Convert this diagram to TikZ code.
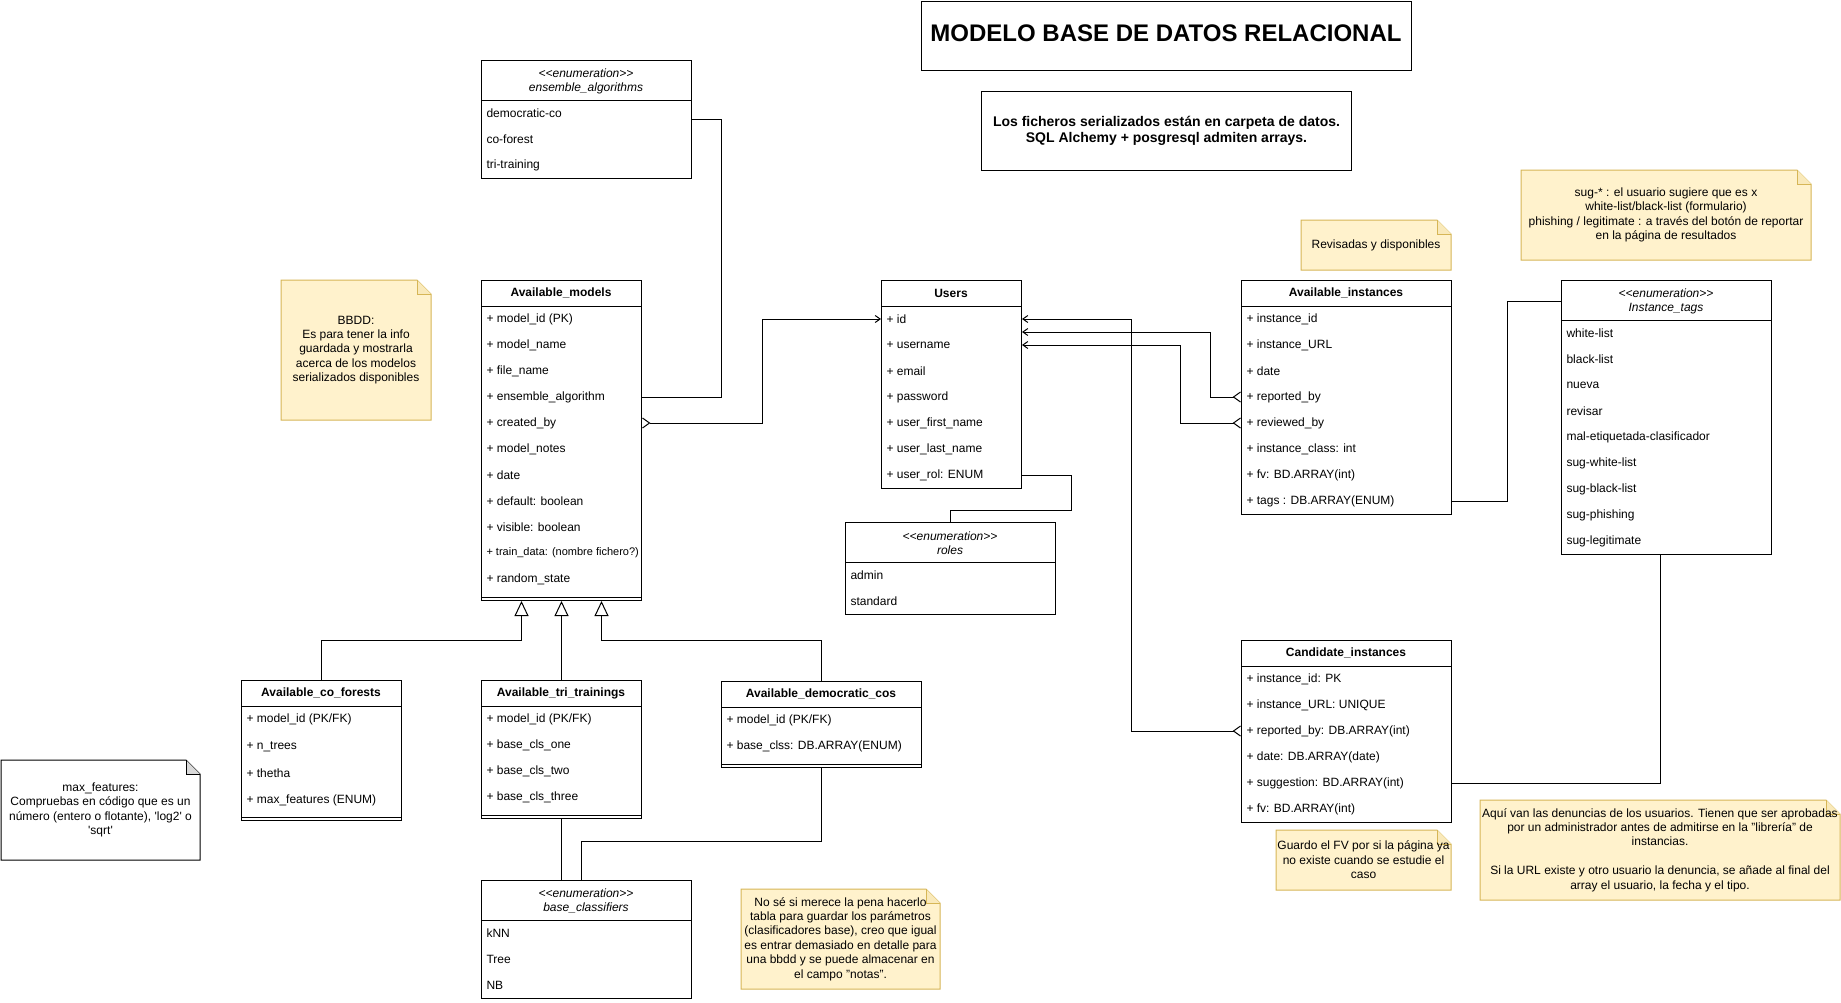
\documentclass[tikz,border=0pt]{standalone}
\usepackage{fontspec}
\setmainfont{Liberation Sans}
\usetikzlibrary{arrows.meta}
\usepackage{color}
\definecolor{note_fill}{RGB}{255,242,204}
\definecolor{note_line}{RGB}{214,182,86}

% note with folded corner: name, x1, y1, x2, y2, fill, line, text
\newcommand{\umlnote}[8]{%
  \filldraw[fill=#6, draw=#7, line width=1pt] (#2,#3) -- (#4-14,#3) -- (#4,#3+14) -- (#4,#5) -- (#2,#5) -- cycle;
  \filldraw[fill=#6!85!#7, draw=#7, line width=1pt] (#4-14,#3) -- (#4-14,#3+14) -- (#4,#3+14);
  \node[notetext] (#1) at ({(#2+#4)/2},{(#3+#5)/2}) {#8};
}
% stereotype without the << >> ligature
\newcommand{\enumtag}{\textless\kern0pt\textless enumeration\textgreater\kern0pt\textgreater}

\begin{document}
\begin{tikzpicture}[x=1pt, y=-1pt, >={Stealth}, line width=1pt,
    every node/.style={inner sep=0pt, font=\fontsize{12}{14.4}\selectfont},
    classbox/.style={draw, rectangle, anchor=north west, fill=white, line width=1pt},
    classhead/.style={font=\fontsize{12}{14.4}\selectfont\bfseries},
    enumhead/.style={align=center, font=\fontsize{12}{14}\selectfont\itshape},
    rowtext/.style={anchor=west},
    notetext/.style={align=center, font=\fontsize{12}{14.4}\selectfont},
    rel/.style={draw, line width=1pt},
    crowone/.style={rel, arrows={{Straight Barb[reversed, length=7pt, width=10pt]}-{Straight Barb[length=5pt, width=7pt]}}},
    inherit/.style={rel, arrows={-{Triangle[open, length=15pt, width=14pt]}}}]
  \useasboundingbox (0,0) rectangle (1841,1002);

  % titles
  \node[draw, minimum width=490, minimum height=69, anchor=north west] (titlebox) at (921,1) {};
  \node[font=\fontsize{24}{28}\selectfont\bfseries] (title) at (1166,33) {MODELO BASE DE DATOS RELACIONAL};
  \node[draw, minimum width=370, minimum height=79, anchor=north west, align=center,
        font=\fontsize{14}{16}\selectfont\bfseries] (subtitle) at (981,91)
        {Los ficheros serializados están en carpeta de datos.\\SQL Alchemy + posgresql admiten arrays.};

  % ensemble_algorithms
  \node[classbox, minimum width=210, minimum height=118] (ensalgo) at (481,60) {};
  \draw (ensalgo.north west) ++(0,40) -- ++(210,0);
  \node[enumhead] (ensalgo-title) at (586,81) {\enumtag\\ensemble\_algorithms};
  \foreach \t [count=\i] in {democratic-co, co-forest, tri-training}
    \node[rowtext] (ensalgo-\i) at (486,87+26*\i) {\t};

  % Available_models
  \node[classbox, minimum width=160, minimum height=320] (models) at (481,280) {};
  \draw (models.north west) ++(0,26) -- ++(160,0);
  \draw ([yshift=4pt]models.south west) -- ([yshift=4pt]models.south east);
  \node[classhead] (models-title) at (561,293) {Available\_models};
  \foreach \t [count=\i] in {+ model\_id (PK), + model\_name, + file\_name, + ensemble\_algorithm,
      + created\_by, + model\_notes, + date, + default: boolean, + visible: boolean,
      {\fontsize{11}{13}\selectfont + train\_data: (nombre fichero?)}, + random\_state}
    \node[rowtext] (models-\i) at (486,293+26*\i) {\t};

  % Users
  \node[classbox, minimum width=140, minimum height=208] (users) at (881,280) {};
  \draw (users.north west) ++(0,26) -- ++(140,0);
  \node[classhead] (users-title) at (951,293) {Users};
  \foreach \t [count=\i] in {+ id, + username, + email, + password, + user\_first\_name,
      + user\_last\_name, + user\_rol: ENUM}
    \node[rowtext] (users-\i) at (886,293+26*\i) {\t};

  % roles
  \node[classbox, minimum width=210, minimum height=92] (roles) at (845,522) {};
  \draw (roles.north west) ++(0,40) -- ++(210,0);
  \node[enumhead] (roles-title) at (950,543) {\enumtag\\roles};
  \foreach \t [count=\i] in {admin, standard}
    \node[rowtext] (roles-\i) at (850,549+26*\i) {\t};

  % Available_instances
  \node[classbox, minimum width=210, minimum height=234] (instances) at (1241,280) {};
  \draw (instances.north west) ++(0,26) -- ++(210,0);
  \node[classhead] (instances-title) at (1346,293) {Available\_instances};
  \foreach \t [count=\i] in {+ instance\_id, + instance\_URL, + date, + reported\_by, + reviewed\_by,
      + instance\_class: int, + fv: BD.ARRAY(int), + tags : DB.ARRAY(ENUM)}
    \node[rowtext] (instances-\i) at (1246,293+26*\i) {\t};

  % Instance_tags
  \node[classbox, minimum width=210, minimum height=274] (tags) at (1561,280) {};
  \draw (tags.north west) ++(0,40) -- ++(210,0);
  \node[enumhead] (tags-title) at (1666,301) {\enumtag\\Instance\_tags};
  \foreach \t [count=\i] in {white-list, black-list, nueva, revisar, mal-etiquetada-clasificador,
      sug-white-list, sug-black-list, sug-phishing, sug-legitimate}
    \node[rowtext] (tags-\i) at (1566,307+26*\i) {\t};

  % Candidate_instances
  \node[classbox, minimum width=210, minimum height=182] (candidates) at (1241,640) {};
  \draw (candidates.north west) ++(0,26) -- ++(210,0);
  \node[classhead] (candidates-title) at (1346,653) {Candidate\_instances};
  \foreach \t [count=\i] in {+ instance\_id: PK, + instance\_URL: UNIQUE, + reported\_by: DB.ARRAY(int),
      + date: DB.ARRAY(date), + suggestion: BD.ARRAY(int), + fv: BD.ARRAY(int)}
    \node[rowtext] (candidates-\i) at (1246,653+26*\i) {\t};

  % Available_co_forests
  \node[classbox, minimum width=160, minimum height=140] (coforests) at (241,680) {};
  \draw (coforests.north west) ++(0,26) -- ++(160,0);
  \draw ([yshift=4pt]coforests.south west) -- ([yshift=4pt]coforests.south east);
  \node[classhead] (coforests-title) at (321,693) {Available\_co\_forests};
  \foreach \t [count=\i] in {+ model\_id (PK/FK), + n\_trees, + thetha, + max\_features (ENUM)}
    \node[rowtext] (coforests-\i) at (246,693+26.8*\i) {\t};

  % Available_tri_trainings
  \node[classbox, minimum width=160, minimum height=138] (tritrainings) at (481,680) {};
  \draw (tritrainings.north west) ++(0,26) -- ++(160,0);
  \draw ([yshift=4pt]tritrainings.south west) -- ([yshift=4pt]tritrainings.south east);
  \node[classhead] (tritrainings-title) at (561,693) {Available\_tri\_trainings};
  \foreach \t [count=\i] in {+ model\_id (PK/FK), + base\_cls\_one, + base\_cls\_two, + base\_cls\_three}
    \node[rowtext] (tritrainings-\i) at (486,693+26*\i) {\t};

  % Available_democratic_cos
  \node[classbox, minimum width=200, minimum height=86] (democos) at (721,681) {};
  \draw (democos.north west) ++(0,26) -- ++(200,0);
  \draw ([yshift=4pt]democos.south west) -- ([yshift=4pt]democos.south east);
  \node[classhead] (democos-title) at (821,694) {Available\_democratic\_cos};
  \foreach \t [count=\i] in {+ model\_id (PK/FK), + base\_clss: DB.ARRAY(ENUM)}
    \node[rowtext] (democos-\i) at (726,694+26*\i) {\t};

  % base_classifiers
  \node[classbox, minimum width=210, minimum height=118] (basecls) at (481,880) {};
  \draw (basecls.north west) ++(0,40) -- ++(210,0);
  \node[enumhead] (basecls-title) at (586,901) {\enumtag\\base\_classifiers};
  \foreach \t [count=\i] in {kNN, Tree, NB}
    \node[rowtext] (basecls-\i) at (486,907+26*\i) {\t};

  % relations
  \draw[rel] (ensalgo.east) -- ++(29,0) |- (models.east |- models-4);
  \draw[crowone] (models.east |- models-5) -- ++(120,0) |- (users.west |- users-1);
  \draw[crowone] (instances.west |- instances-4) -- ++(-31,0) |- ([yshift=-13pt]users.east |- users-1);
  \draw[crowone] (instances.west |- instances-5) -- ++(-61,0) |- (users.east |- users-2);
  \draw[crowone] (candidates.west |- candidates-3) -- ++(-110,0) |- (users.east |- users-1);
  \draw[rel] (users.east |- users-7) -- ++(49,0) -- ++(0,35) -| (roles.north);
  \draw[rel] (instances.east |- instances-8) -- ++(55,0) |- (tags.west |- tags-title);
  \draw[rel] (candidates.east |- candidates-5) -| ([xshift=-6pt]tags.south);
  \draw[inherit] (coforests.north) -- ++(0,-40) -| ([xshift=-40pt]models.south);
  \draw[inherit] (tritrainings.north) -- (models.south);
  \draw[inherit] (democos.north) -- ++(0,-41) -| ([xshift=40pt]models.south);
  \draw[rel] (tritrainings.south) -- (tritrainings.south |- basecls.north);
  \draw[rel] (democos.south) -- ++(0,73) -| ([xshift=-5pt]basecls.north);

  % notes
  \umlnote{bbddnote}{281}{280}{431}{420}{note_fill}{note_line}
    {BBDD:\\Es para tener la info\\guardada y mostrarla\\acerca de los modelos\\serializados disponibles}
  \umlnote{revnote}{1301}{220}{1451}{270}{note_fill}{note_line}{Revisadas y disponibles}
  \umlnote{tagsnote}{1521}{170}{1811}{260}{note_fill}{note_line}
    {sug-* : el usuario sugiere que es x\\white-list/black-list (formulario)\\phishing / legitimate : a través del botón de reportar\\en la página de resultados}
  \umlnote{fvnote}{1276}{830}{1451}{890}{note_fill}{note_line}
    {Guardo el FV por si la página ya\\no existe cuando se estudie el\\caso}
  \umlnote{reportnote}{1480}{800}{1840}{900}{note_fill}{note_line}
    {Aquí van las denuncias de los usuarios. Tienen que ser aprobadas\\por un administrador antes de admitirse en la "librería" de\\instancias.\\[14.4pt]Si la URL existe y otro usuario la denuncia, se añade al final del\\array el usuario, la fecha y el tipo.}
  \umlnote{featnote}{1}{760}{200}{860}{white}{black}
    {max\_features:\\Compruebas en código que es un\\número (entero o flotante), \textquotesingle log2\textquotesingle{} o\\\textquotesingle sqrt\textquotesingle}
  \umlnote{paramnote}{741}{889}{940}{989}{note_fill}{note_line}
    {No sé si merece la pena hacerlo\\tabla para guardar los parámetros\\(clasificadores base), creo que igual\\es entrar demasiado en detalle para\\una bbdd y se puede almacenar en\\el campo "notas".}
\end{tikzpicture}
\end{document}
